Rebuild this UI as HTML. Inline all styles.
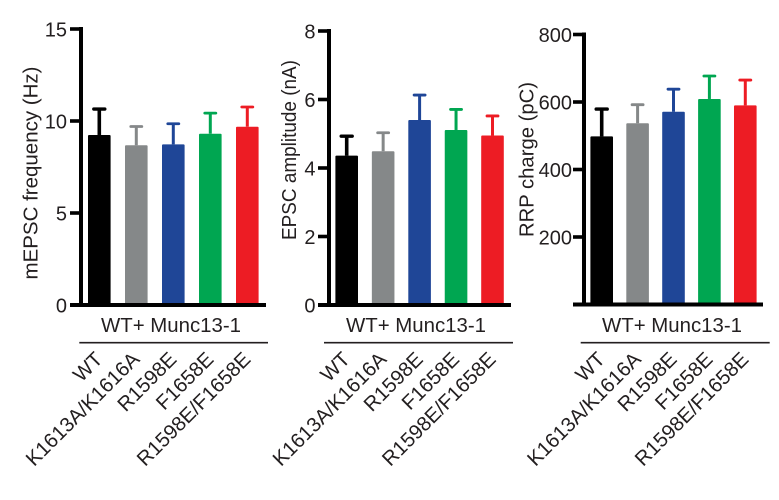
<!DOCTYPE html>
<html>
<head>
<meta charset="utf-8">
<style>
html,body{margin:0;padding:0;background:#fff;width:779px;height:500px;overflow:hidden}
svg{display:block}
text{font-family:"Liberation Sans",sans-serif;fill:#231f20}
</style>
</head>
<body>
<svg id="chart" xmlns="http://www.w3.org/2000/svg" width="779" height="500" viewBox="0 0 779 500"></svg>
<script>
const categories = ['WT', 'K1613A/K1616A', 'R1598E', 'F1658E', 'R1598E/F1658E'];
const groupLabel = 'WT+ Munc13-1';
const colors = ['#000000', '#858889', '#1f4697', '#00a651', '#ed1c24'];

const mepscMeans = [9.24, 8.68, 8.73, 9.31, 9.69];
const mepscErrorTops = [10.65, 9.7, 9.85, 10.43, 10.76];
const mepscTicks = [0, 5, 10, 15];

const epscMeans = [4.36, 4.49, 5.40, 5.11, 4.95];
const epscErrorTops = [4.93, 5.03, 6.13, 5.71, 5.52];
const epscTicks = [0, 2, 4, 6, 8];

const rrpMeans = [498, 537, 571, 609, 590];
const rrpErrorTops = [579, 592, 638, 677, 665];
const rrpTicks = [200, 400, 600, 800];

const svg = document.getElementById('chart');
const NS = 'http://www.w3.org/2000/svg';

function make(tag, attrs, text) {
  const el = document.createElementNS(NS, tag);
  for (const k in attrs) el.setAttribute(k, attrs[k]);
  if (text !== undefined) el.textContent = text;
  svg.appendChild(el);
  return el;
}

function drawPanel(p) {
  const y = v => p.y0 + (p.yTop - p.y0) * v / p.max;
  const x = i => p.bar0 + i * p.barStep;

  p.means.forEach((m, i) => {
    const err = make('line', {x1: x(i), x2: x(i), y1: y(m), y2: y(p.errs[i]), stroke: colors[i], 'stroke-width': i === 0 ? 3.6 : 3});
    
    
    const cap = make('line', {x1: x(i) - 5.5, x2: x(i) + 5.5, y1: y(p.errs[i]), y2: y(p.errs[i]), stroke: colors[i], 'stroke-width': i === 0 ? 3.4 : 2.8, 'stroke-linecap': 'round'});
    
    
    const bar = make('rect', {x: x(i) - 11.3, y: y(m), width: 22.6, height: p.y0 - y(m), fill: colors[i], rx: 1});
    
    
  });

  const yAxis = make('line', {x1: p.axisX, x2: p.axisX, y1: y(p.max) - 2, y2: p.y0 + 2, stroke: '#000', 'stroke-width': 4});
  
  

  const xAxis = make('line', {x1: p.tickX, x2: p.xEnd, y1: p.y0, y2: p.y0, stroke: '#000', 'stroke-width': 4});
  
  

  p.ticks.forEach(t => {
    const tick = make('line', {x1: p.tickX, x2: p.axisX, y1: y(t), y2: y(t), stroke: '#000', 'stroke-width': 3.6});
    
    
    const label = make('text', {x: p.tickX - p.labelGap, y: y(t) + 7.5, 'text-anchor': 'end', 'font-size': 20}, t);
    
    
  });

  const title = make('text', {transform: 'translate(' + p.titleX + ',' + p.titleY + ') rotate(-90)', 'text-anchor': 'middle', 'font-size': 20.5, textLength: p.titleLength, lengthAdjust: 'spacingAndGlyphs'}, p.title);
  
  

  const group = make('text', {x: p.groupX, y: 332, 'text-anchor': 'middle', 'font-size': 20.4}, groupLabel);
  
  

  const rule = make('line', {x1: p.ruleX1, x2: p.ruleX2, y1: 342.7, y2: 342.7, stroke: '#231f20', 'stroke-width': 1.6});
  
  

  categories.forEach((c, i) => {
    const lx = x(i) + 4.5;
    const ly = 360.5;
    const cat = make('text', {transform: 'translate(' + lx + ',' + ly + ') rotate(-45)', 'text-anchor': 'end', 'font-size': 20.4}, c);
    
    
  });
}

drawPanel({id: 'mepsc', title: 'mEPSC frequency (Hz)', titleLength: 213, means: mepscMeans, errs: mepscErrorTops, ticks: mepscTicks, max: 15,
  y0: 305, yTop: 29, axisX: 81, tickX: 70, labelGap: 3, xEnd: 266, bar0: 99.3, barStep: 37,
  titleX: 37.5, titleY: 173, groupX: 171, ruleX1: 79.3, ruleX2: 268});
drawPanel({id: 'epsc', title: 'EPSC amplitude (nA)', titleLength: 180, means: epscMeans, errs: epscErrorTops, ticks: epscTicks, max: 8,
  y0: 305, yTop: 31, axisX: 329, tickX: 318, labelGap: 2.5, xEnd: 511, bar0: 346.7, barStep: 36.45,
  titleX: 296, titleY: 150, groupX: 416, ruleX1: 324, ruleX2: 513});
drawPanel({id: 'rrp', title: 'RRP charge (pC)', titleLength: 155, means: rrpMeans, errs: rrpErrorTops, ticks: rrpTicks, max: 800,
  y0: 304.5, yTop: 34.5, axisX: 584, tickX: 573, labelGap: 1, xEnd: 763, bar0: 601.7, barStep: 35.9,
  titleX: 533.5, titleY: 159.5, groupX: 672, ruleX1: 580.7, ruleX2: 769.7});
</script>
</body>
</html>
